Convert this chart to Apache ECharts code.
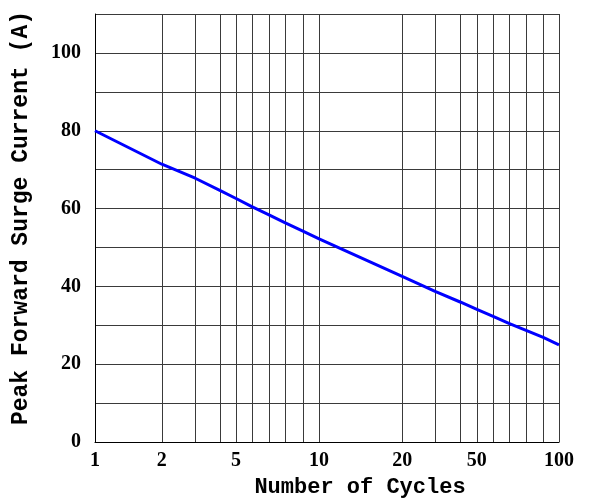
<!DOCTYPE html>
<html>
<head>
<meta charset="utf-8">
<script src="https://cdn.jsdelivr.net/npm/echarts@6/dist/echarts.min.js"></script>
<style>html,body{margin:0;padding:0;background:#fff;}#c{width:590px;height:503px;}</style>
</head>
<body>
<div id="c"></div>
<script>
// Number of cycles at each ruling of the printed log paper
const cycles = [1, 2, 3, 4, 5, 6, 7, 8, 9, 10, 20, 30, 40, 50, 60, 70, 80, 90, 100];
// Where each ruling sits on the printed (hand-ruled) log paper, percent of axis length
const paperPos = [0, 14.4, 21.6, 26.9, 30.4, 33.8, 37.5, 40.9, 44.8, 48.3, 66.2, 73.3, 78.7, 82.3, 85.8, 89.2, 92.9, 96.6, 100];
// Peak forward surge current (A) read at each ruling
const current = [80, 71.4, 67.8, 64.7, 62.6, 60.5, 58.4, 56.4, 54.2, 52.2, 42.6, 38.7, 36.0, 34.1, 32.3, 30.5, 28.7, 26.9, 25];
// Labelled x ticks
const xLabels = [1, 2, 5, 10, 20, 50, 100];
// Y tick labels
const yLabels = [0, 20, 40, 60, 80, 100];

function toPaper(c) {
  for (let i = 0; i < cycles.length - 1; i++) {
    if (c >= cycles[i] && c <= cycles[i + 1]) {
      const t = (Math.log10(c) - Math.log10(cycles[i])) / (Math.log10(cycles[i + 1]) - Math.log10(cycles[i]));
      return paperPos[i] + t * (paperPos[i + 1] - paperPos[i]);
    }
  }
  return c <= cycles[0] ? paperPos[0] : paperPos[paperPos.length - 1];
}
function fromPaper(p) {
  for (let i = 0; i < paperPos.length; i++) {
    if (Math.abs(paperPos[i] - p) < 1e-6) return cycles[i];
  }
  return '';
}

const chart = echarts.init(document.getElementById('c'), null, {renderer: 'canvas'});
const gridColor = '#3a3a3a';
chart.setOption({
  animation: false,
  backgroundColor: '#fff',
  grid: {left: 95, right: 31, top: 14, bottom: 59, containLabel: false},
  xAxis: {
    type: 'value', min: 0, max: 100,
    name: 'Number of Cycles',
    nameLocation: 'middle', nameGap: 30,
    nameTextStyle: {fontFamily: 'Liberation Mono', fontWeight: 'bold', fontSize: 22, color: '#000', padding: [0, 0, 0, 66]},
    axisLine: {show: true, lineStyle: {color: '#000', width: 1}},
    axisTick: {show: false, customValues: paperPos},
    splitLine: {show: true, lineStyle: {color: gridColor, width: 1}},
    axisLabel: {
      customValues: xLabels.map(toPaper),
      formatter: v => String(fromPaper(v)),
      fontFamily: 'Liberation Serif', fontWeight: 'bold', fontSize: 20, color: '#000', margin: 9
    }
  },
  yAxis: {
    type: 'value', min: 0, max: 110, interval: 10,
    name: 'Peak Forward Surge Current (A)',
    nameLocation: 'middle', nameGap: 62, nameRotate: 90,
    nameTextStyle: {fontFamily: 'Liberation Mono', fontWeight: 'bold', fontSize: 23, color: '#000', padding: [0, 0, 0, 20]},
    axisLine: {show: true, lineStyle: {color: '#000', width: 1}},
    axisTick: {show: false},
    splitLine: {show: true, lineStyle: {color: gridColor, width: 1}},
    axisLabel: {
      formatter: v => yLabels.indexOf(v) >= 0 ? String(v) : '',
      fontFamily: 'Liberation Serif', fontWeight: 'bold', fontSize: 20, color: '#000', margin: 14
    }
  },
  series: [{
    type: 'line',
    data: cycles.map((c, i) => [toPaper(c), current[i]]),
    showSymbol: false,
    lineStyle: {color: '#0000ff', width: 3},
    z: 5
  }]
});
</script>
</body>
</html>
